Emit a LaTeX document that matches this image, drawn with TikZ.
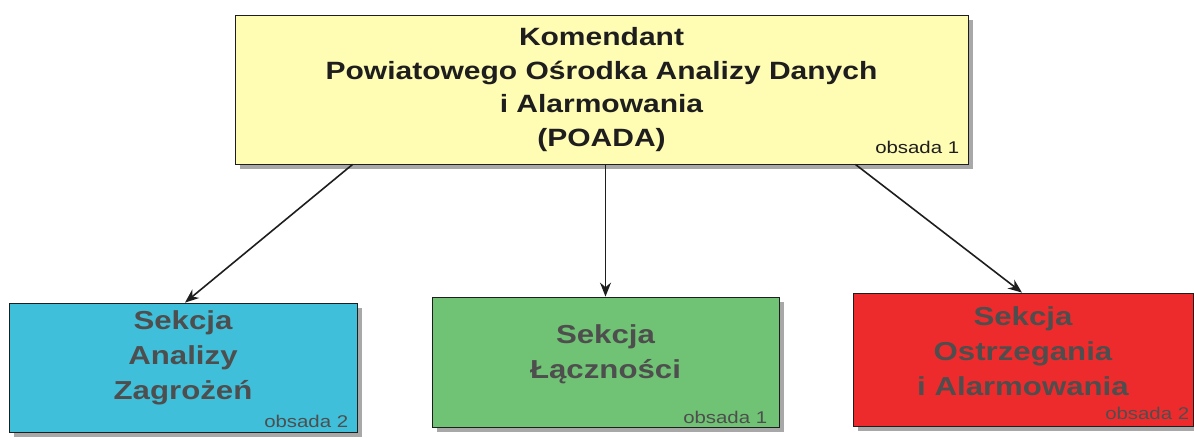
\documentclass[tikz,border=0pt]{standalone}
\usepackage{fontspec}
\setmainfont[FakeStretch=1.2]{Liberation Sans}
\definecolor{poKom}{HTML}{FFFCB4}
\definecolor{poBlue}{HTML}{3FBFDA}
\definecolor{poGreen}{HTML}{70C274}
\definecolor{poRed}{HTML}{EE2B2C}
\definecolor{poText}{HTML}{1E1E1E}
\definecolor{poGrey}{HTML}{4E4E4E}
\definecolor{poShadow}{HTML}{A8A8A8}
\usetikzlibrary{positioning,arrows.meta,shadows}

\tikzset{
  unit/.style={draw=poText, line width=0.8pt, inner sep=0pt,
    drop shadow={shadow xshift=5pt, shadow yshift=-5pt, fill=poShadow, opacity=1}},
  kombox/.style={unit, fill=poKom, minimum width=733pt, minimum height=149pt},
  sekbox/.style={unit, minimum width=347pt, minimum height=130pt},
  komtxt/.style={text=poText, align=center, font=\bfseries\fontsize{25}{33.6}\selectfont},
  sektxt/.style={text=poGrey, align=center, font=\bfseries\fontsize{26}{35}\selectfont},
  obsada/.style={anchor=base east, inner sep=0pt, font=\fontsize{17}{20}\selectfont},
  arr/.style={draw=poText, line width=1.6pt, -{Stealth[length=14pt,width=11pt]}}
}

\begin{document}
\begin{tikzpicture}[x=1pt, y=-1pt]
  \useasboundingbox (0,0) rectangle (1194,437);

  % Komendant
  \node[kombox] (kom) at (601.5, 89.5) {};
  \node[komtxt] (kom-t) at (601.5, 89.7)
    {Komendant\\Powiatowego Ośrodka Analizy Danych\\i Alarmowania\\(POADA)};
  \node[obsada, text=poText] (kom-o) at ([shift={(-9,-11)}]kom.south east) {obsada 1};

  % Sekcje
  \node[sekbox, fill=poBlue, minimum width=348pt, minimum height=129pt] (sza) at (183, 367.5) {};
  \node[sektxt] (sza-t) at (183, 358) {Sekcja\\Analizy\\Zagrożeń};
  \node[obsada, text=poGrey] (sza-o) at ([shift={(-9,-5)}]sza.south east) {obsada 2};

  \node[sekbox, fill=poGreen] (szl) at (605.5, 362) {};
  \node[sektxt] (szl-t) at (605.5, 354) {Sekcja\\Łączności};
  \node[obsada, text=poGrey] (szl-o) at ([shift={(-12,-4)}]szl.south east) {obsada 1};

  \node[sekbox, fill=poRed, minimum width=340pt, minimum height=133pt] (szo) at (1023, 359.5) {};
  \node[sektxt] (szo-t) at (1023, 351) {Sekcja\\Ostrzegania\\i Alarmowania};
  \node[obsada, text=poGrey] (szo-o) at ([shift={(-4,-7)}]szo.south east) {obsada 2};

  % Podleglosc
  \draw[arr] ([xshift=118pt]kom.south west) -- ([xshift=2pt]sza.north);
  \draw[arr] (kom.south -| szl.north) -- (szl.north);
  \draw[arr] ([xshift=-113pt]kom.south east) -- ([xshift=-1pt]szo.north);
\end{tikzpicture}
\end{document}
